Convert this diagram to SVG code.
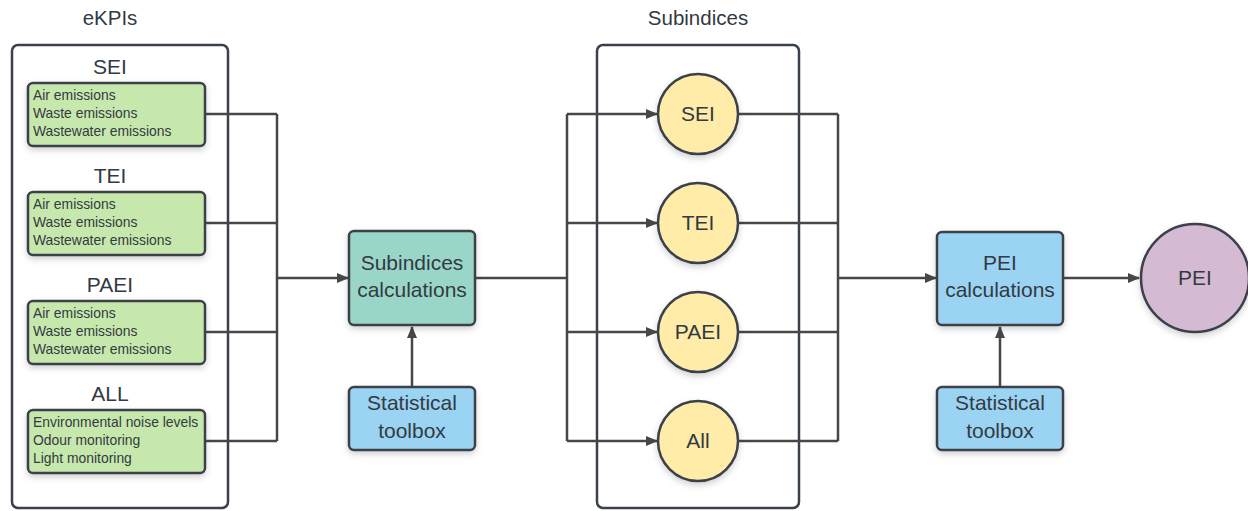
<svg xmlns="http://www.w3.org/2000/svg" width="1248" height="511" viewBox="0 0 1248 511">
<defs>
<filter id="sh" x="-20%" y="-20%" width="140%" height="150%">
<feDropShadow dx="0" dy="3" stdDeviation="3" flood-color="#000" flood-opacity="0.18"/>
</filter>
<marker id="arr" viewBox="0 0 12 10" refX="11" refY="5" markerWidth="12" markerHeight="10" markerUnits="userSpaceOnUse" orient="auto">
<path d="M0,0 L12,5 L0,10 z" fill="#474747"/>
</marker>
</defs>
<style>
.cont{fill:#fff;stroke:#3a414a;stroke-width:2.5}
.grn{fill:#c7e8ad;stroke:#3a414a;stroke-width:2.5;filter:url(#sh)}
.teal{fill:#9ad6c8;stroke:#3a414a;stroke-width:2.5;filter:url(#sh)}
.blue{fill:#9bd3f2;stroke:#3a414a;stroke-width:2.5;filter:url(#sh)}
.yel{fill:#ffeca8;stroke:#3a414a;stroke-width:2.5;filter:url(#sh)}
.pur{fill:#d5bad3;stroke:#3a414a;stroke-width:2.5;filter:url(#sh)}
text{font-family:"Liberation Sans",Arial,sans-serif;fill:#333a42}
.ttl{font-size:20.5px;text-anchor:middle}
.lbl{font-size:21px;text-anchor:middle}
.sm{font-size:13.9px}
.big{font-size:21px;text-anchor:middle}
.ln{fill:none;stroke:#474747;stroke-width:2.5}
</style>

<text class="ttl" x="110" y="25">eKPIs</text>
<text class="ttl" x="698" y="25">Subindices</text>

<g id="ekpis-container"><rect class="cont" x="12" y="45" width="216" height="463" rx="6"/></g>
<g id="subindices-container"><rect class="cont" x="597" y="45" width="202" height="463" rx="6"/></g>

<g id="connectors">
<path class="ln" d="M205,114 H277 M205,223 H277 M205,332 H277 M205,441 H277 M277,114 V441"/>
<path class="ln" d="M277,278 H348" marker-end="url(#arr)"/>
<path class="ln" d="M476,278 H567 M567,114 V441"/>
<path class="ln" d="M567,114 H657" marker-end="url(#arr)"/>
<path class="ln" d="M567,223 H657" marker-end="url(#arr)"/>
<path class="ln" d="M567,332 H657" marker-end="url(#arr)"/>
<path class="ln" d="M567,441 H657" marker-end="url(#arr)"/>
<path class="ln" d="M738,114 H838 M738,223 H838 M738,332 H838 M738,441 H838 M838,114 V441"/>
<path class="ln" d="M838,278 H936" marker-end="url(#arr)"/>
<path class="ln" d="M412,387 V327" marker-end="url(#arr)"/>
<path class="ln" d="M1000,387 V327" marker-end="url(#arr)"/>
<path class="ln" d="M1063,278 H1139" marker-end="url(#arr)"/>
</g>

<g id="sei-ekpi">
<text class="lbl" x="110" y="74">SEI</text>
<rect class="grn" x="28" y="83" width="177" height="63" rx="5"/>
<text class="sm" x="33" y="100">Air emissions</text>
<text class="sm" x="33" y="118">Waste emissions</text>
<text class="sm" x="33" y="136">Wastewater emissions</text>
</g>
<g id="tei-ekpi">
<text class="lbl" x="110" y="183">TEI</text>
<rect class="grn" x="28" y="192" width="177" height="63" rx="5"/>
<text class="sm" x="33" y="209">Air emissions</text>
<text class="sm" x="33" y="227">Waste emissions</text>
<text class="sm" x="33" y="245">Wastewater emissions</text>
</g>
<g id="paei-ekpi">
<text class="lbl" x="110" y="292">PAEI</text>
<rect class="grn" x="28" y="301" width="177" height="63" rx="5"/>
<text class="sm" x="33" y="318">Air emissions</text>
<text class="sm" x="33" y="336">Waste emissions</text>
<text class="sm" x="33" y="354">Wastewater emissions</text>
</g>
<g id="all-ekpi">
<text class="lbl" x="110" y="401">ALL</text>
<rect class="grn" x="28" y="410" width="177" height="63" rx="5"/>
<text class="sm" x="33" y="427">Environmental noise levels</text>
<text class="sm" x="33" y="445">Odour monitoring</text>
<text class="sm" x="33" y="463">Light monitoring</text>
</g>

<g id="subindices-calc">
<rect class="teal" x="349" y="231" width="126" height="94" rx="5"/>
<text class="big" x="412" y="270">Subindices</text>
<text class="big" x="412" y="297">calculations</text>
</g>
<g id="stat-toolbox-1">
<rect class="blue" x="349" y="387" width="126" height="63" rx="5"/>
<text class="big" x="412" y="410">Statistical</text>
<text class="big" x="412" y="438">toolbox</text>
</g>

<g id="sei-circle"><circle class="yel" cx="698" cy="114" r="40"/><text class="big" x="698" y="121">SEI</text></g>
<g id="tei-circle"><circle class="yel" cx="698" cy="223" r="40"/><text class="big" x="698" y="230">TEI</text></g>
<g id="paei-circle"><circle class="yel" cx="698" cy="332" r="40"/><text class="big" x="698" y="339">PAEI</text></g>
<g id="all-circle"><circle class="yel" cx="698" cy="441" r="40"/><text class="big" x="698" y="448">All</text></g>

<g id="pei-calc">
<rect class="blue" x="937" y="232" width="126" height="93" rx="5"/>
<text class="big" x="1000" y="270">PEI</text>
<text class="big" x="1000" y="297">calculations</text>
</g>
<g id="stat-toolbox-2">
<rect class="blue" x="937" y="387" width="126" height="63" rx="5"/>
<text class="big" x="1000" y="410">Statistical</text>
<text class="big" x="1000" y="438">toolbox</text>
</g>
<g id="pei-circle"><circle class="pur" cx="1195" cy="278" r="54"/><text class="big" x="1195" y="285">PEI</text></g>
</svg>
